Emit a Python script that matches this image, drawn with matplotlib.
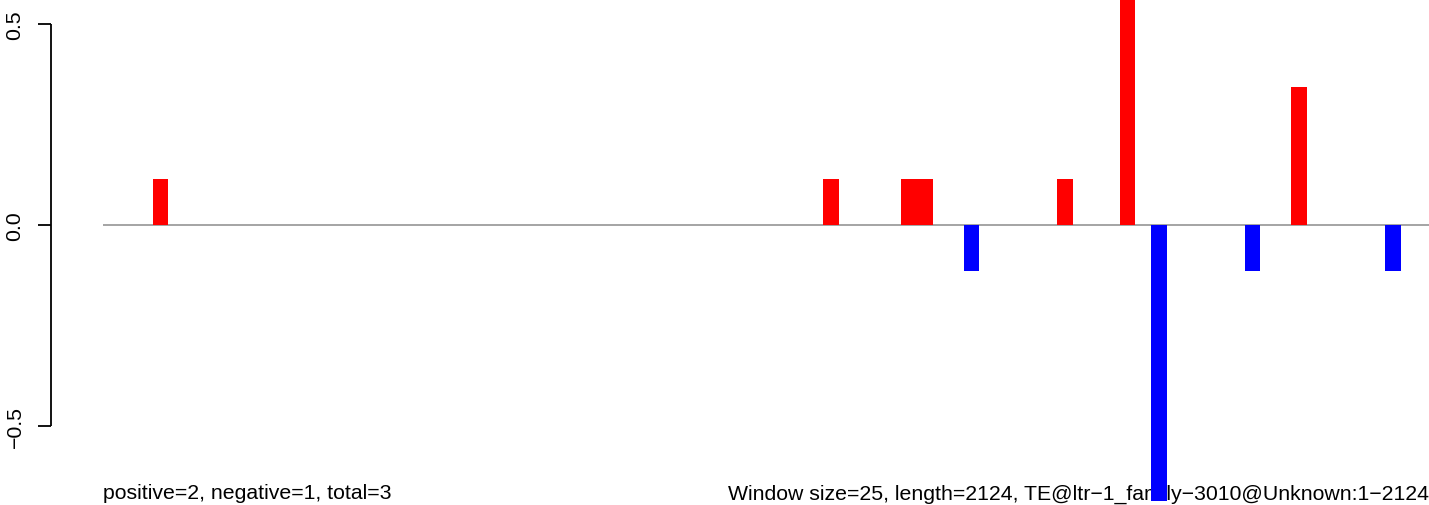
import matplotlib
matplotlib.use("Agg")
import matplotlib.pyplot as plt
from matplotlib.transforms import blended_transform_factory

# ---- data ----
window_size = 25
seq_length = 2124
window_index = [3, 46, 51, 52, 55, 61, 65, 67, 73, 76, 82]
values = [0.1143, 0.1143, 0.1143, 0.1143, -0.1143, 0.1143, 0.6857,
          -0.6857, -0.1143, 0.3429, -0.1143]
ytick_vals = [-0.5, 0.0, 0.5]
ytick_labels = ["\u22120.5", "0.0", "0.5"]
left_label = "positive=2, negative=1, total=3"
right_label = ("Window size=25, length=2124, "
               "TE@ltr\u22121_family\u22123010@Unknown:1\u22122124")

W, H = 1429, 506
fig = plt.figure(figsize=(W / 100, H / 100), dpi=100)
ax = fig.add_axes([0, 0, 1, 1])
ax.set_axis_off()

px_per_bp = 0.624
x0_px = 103
xstart_bp = -4.5
xmin = xstart_bp - x0_px / px_per_bp
xmax = xmin + W / px_per_bp
px_per_unit = 402.0
zero_px = 226
ymax = zero_px / px_per_unit
ymin = -(H - zero_px) / px_per_unit
ax.set_xlim(xmin, xmax)
ax.set_ylim(ymin, ymax)

font = ["Liberation Sans", "DejaVu Sans"]
fs = 15.3

# zero line
ax.plot([xstart_bp, xmax], [0, 0], color="#8c8c8c", lw=1.1, zorder=1,
        solid_capstyle="butt")

# bars
xs = [i * window_size for i in window_index]
colors = ["#ff0000" if v > 0 else "#0000ff" for v in values]
ax.bar(xs, values, width=window_size, align="edge", color=colors,
       linewidth=0, zorder=3)

# y axis drawn manually (R style)
tr = blended_transform_factory(ax.transAxes, ax.transData)
ax_x = 51 / W
tick_len = 13 / W
ax.plot([ax_x, ax_x], [ytick_vals[0], ytick_vals[-1]], color="black",
        lw=1.3, transform=tr, clip_on=False, solid_capstyle="butt")
for v, lab in zip(ytick_vals, ytick_labels):
    ax.plot([ax_x - tick_len, ax_x], [v, v], color="black", lw=1.3,
            transform=tr, clip_on=False, solid_capstyle="butt")
    ax.text(15 / W, v, lab, rotation=90, ha="center", va="center",
            fontsize=fs, family=font, transform=tr)

# bottom labels
ax.text(x0_px / W, 1 - 494 / H, left_label, ha="left", va="center",
        fontsize=fs, family=font, transform=ax.transAxes, zorder=2)
ax.text(1429 / W, 1 - 494 / H, right_label, ha="right", va="center",
        fontsize=fs, family=font, transform=ax.transAxes, zorder=2)

fig.savefig("out.png", dpi=100)
